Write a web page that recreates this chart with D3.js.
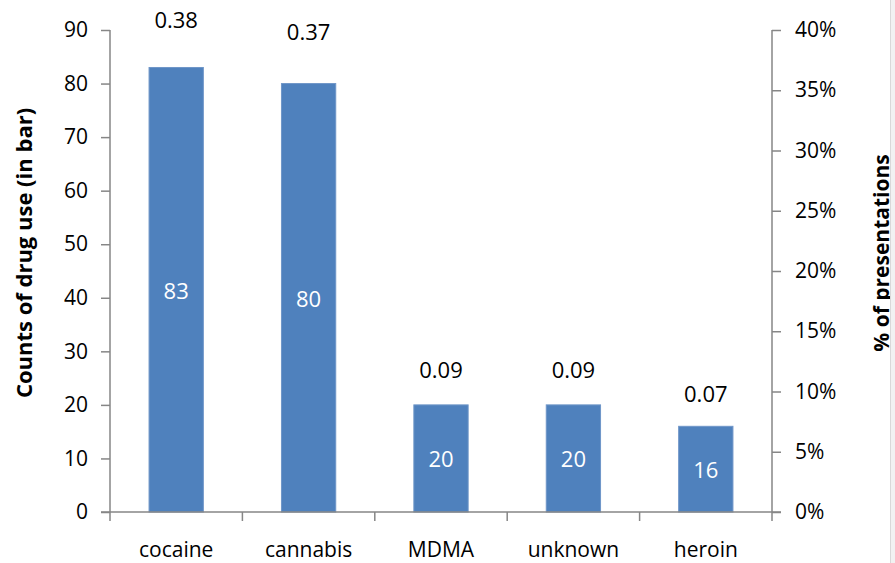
<!DOCTYPE html>
<html>
<head>
<meta charset="utf-8">
<script src="https://cdn.jsdelivr.net/npm/d3@7"></script>
<style>
  html, body { margin: 0; padding: 0; background: #fff; }
  svg { display: block; font-family: "Open Sans", "Liberation Sans", sans-serif; }
</style>
</head>
<body>
<svg id="chart" width="895" height="563"></svg>
<script>
// Drug categories with counts (bars) and share of presentations (labels above)
const categories = ["cocaine", "cannabis", "MDMA", "unknown", "heroin"];
const counts = [83, 80, 20, 20, 16];
const shares = [0.38, 0.37, 0.09, 0.09, 0.07];
const countTicks = [0, 10, 20, 30, 40, 50, 60, 70, 80, 90];
const shareTicks = [0, 0.05, 0.10, 0.15, 0.20, 0.25, 0.30, 0.35, 0.40];

const svg = d3.select("#chart");
const margin = { left: 110, right: 895 - 772, top: 30, bottom: 563 - 512 };
const W = 895, H = 563;
const axisColor = "#868686";
const barColor = "#4f81bd";

const x = d3.scaleBand()
  .domain(categories)
  .range([margin.left, W - margin.right])
  .paddingInner(0.59)
  .paddingOuter(0.295);

const yCount = d3.scaleLinear().domain([0, 90]).range([H - margin.bottom, margin.top]);
const yShare = d3.scaleLinear().domain([0, 0.40]).range([H - margin.bottom, margin.top]);

const data = categories.map((c, i) => ({ cat: c, count: counts[i], share: shares[i] }));

// Bars
svg.append("g").selectAll("rect").data(data).join("rect")
  .attr("x", d => x(d.cat))
  .attr("y", d => yCount(d.count))
  .attr("width", x.bandwidth())
  .attr("height", d => yCount(0) - yCount(d.count))
  .attr("fill", barColor)
  .attr("stroke", "#6f96c8")
  .attr("stroke-width", 1);

// Count labels centred in the bars
svg.append("g").selectAll("text").data(data).join("text")
  .attr("x", d => x(d.cat) + x.bandwidth() / 2)
  .attr("y", d => (yCount(d.count) + yCount(0)) / 2)
  .attr("text-anchor", "middle")
  .attr("dominant-baseline", "central")
  .attr("fill", "#fff")
  .attr("font-size", 22)
  .text(d => d.count);

// Share labels above the bars, positioned on the right-hand scale
svg.append("g").selectAll("text").data(data).join("text")
  .attr("x", d => x(d.cat) + x.bandwidth() / 2)
  .attr("y", d => yShare(d.share) - 35)
  .attr("text-anchor", "middle")
  .attr("dominant-baseline", "central")
  .attr("fill", "#000")
  .attr("font-size", 22)
  .text(d => d.share.toFixed(2));

// Left axis
const leftAxis = d3.axisLeft(yCount).tickValues(countTicks).tickSize(9).tickPadding(13);
const gL = svg.append("g").attr("transform", `translate(${margin.left},0)`).call(leftAxis);

// Right axis
const rightAxis = d3.axisRight(yShare).tickValues(shareTicks).tickSize(9).tickPadding(14)
  .tickFormat(d3.format(".0%"));
const gR = svg.append("g").attr("transform", `translate(${W - margin.right},0)`).call(rightAxis);

// Bottom axis with ticks on category boundaries
const y0 = yCount(0);
const gB = svg.append("g");
gB.append("line")
  .attr("x1", margin.left - 9).attr("x2", W - margin.right + 9)
  .attr("y1", y0).attr("y2", y0)
  .attr("stroke", axisColor).attr("stroke-width", 1.5);
const bounds = categories.map(c => x(c) - x.step() * x.paddingInner() / 2)
  .concat([W - margin.right]);
gB.selectAll("line.tk").data(bounds).join("line")
  .attr("class", "tk")
  .attr("x1", d => d).attr("x2", d => d)
  .attr("y1", y0).attr("y2", y0 + 9)
  .attr("stroke", axisColor).attr("stroke-width", 1.5);
gB.selectAll("text").data(categories).join("text")
  .attr("x", d => x(d) + x.bandwidth() / 2)
  .attr("y", y0 + 37)
  .attr("text-anchor", "middle")
  .attr("dominant-baseline", "central")
  .attr("font-size", 21)
  .attr("fill", "#000")
  .text(d => d);

[gL, gR].forEach(g => {
  g.select(".domain").attr("stroke", axisColor).attr("stroke-width", 1.5)
    .attr("d", `M0,${margin.top}V${y0}`);
  g.selectAll(".tick line").attr("stroke", axisColor).attr("stroke-width", 1.5);
  g.selectAll(".tick text").attr("font-size", 21).attr("fill", "#000")
    .attr("font-family", "'Open Sans', sans-serif");
});

// Axis titles
svg.append("text")
  .attr("transform", `translate(23,253) rotate(-90)`)
  .attr("text-anchor", "middle")
  .attr("dominant-baseline", "central")
  .attr("font-size", 22)
  .attr("font-weight", "bold")
  .text("Counts of drug use (in bar)");

svg.append("text")
  .attr("transform", `translate(881,253) rotate(-90)`)
  .attr("text-anchor", "middle")
  .attr("dominant-baseline", "central")
  .attr("font-size", 21)
  .attr("font-weight", "bold")
  .text("% of presentations");

// Chart frame edge
svg.append("line")
  .attr("x1", 890.5).attr("x2", 890.5).attr("y1", 0).attr("y2", H)
  .attr("stroke", "#d9d9d9").attr("stroke-width", 1);
svg.append("rect")
  .attr("x", 891).attr("y", 0).attr("width", 4).attr("height", H)
  .attr("fill", "#f2f2f2");
</script>
</body>
</html>
